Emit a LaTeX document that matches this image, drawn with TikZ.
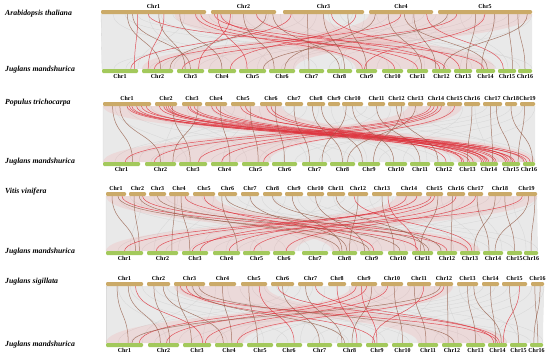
\documentclass[tikz,border=0pt]{standalone}
\usepackage{fontspec}
\setmainfont{Liberation Serif}
\usetikzlibrary{calc,positioning,backgrounds}
\definecolor{chrtop}{RGB}{203,170,104}
\definecolor{chrbot}{RGB}{163,201,92}
\definecolor{lnkred}{RGB}{222,48,58}
\definecolor{lnkbrn}{RGB}{150,95,75}

\tikzset{
  topbar/.style={fill=chrtop, rounded corners=1.2bp, minimum height=4bp, inner sep=0pt, outer sep=0pt},
  botbar/.style={topbar, fill=chrbot},
  chrlab/.style={font=\fontsize{6}{6}\selectfont\bfseries, inner sep=0pt},
  spelab/.style={font=\fontsize{7.8}{8}\selectfont\bfseries\itshape, anchor=west, inner sep=0pt},
  linkr/.style={draw=lnkred, line width=0.5bp, opacity=0.8},
  linkb/.style={draw=lnkbrn, line width=0.5bp, opacity=0.8},
  greyrib/.style={fill=gray!17},
  pinkrib/.style={fill=red!60, opacity=0.12},
  greyln/.style={draw=gray!32, line width=0.3bp},
}

\begin{document}
\begin{tikzpicture}[x=1bp, y=-1bp]
  \useasboundingbox (0,0) rectangle (550,358);

  % species names
  \node[spelab] (sp1) at (5,14) {Arabidopsis thaliana};
  \node[spelab] (jm1) at (5,70) {Juglans mandshurica};
  \node[spelab] (sp2) at (5,103) {Populus trichocarpa};
  \node[spelab] (jm2) at (5,162) {Juglans mandshurica};
  \node[spelab] (sp3) at (5,192) {Vitis vinifera};
  \node[spelab] (jm3) at (5,252) {Juglans mandshurica};
  \node[spelab] (sp4) at (5,282) {Juglans sigillata};
  \node[spelab] (jm4) at (5,345) {Juglans mandshurica};

  % panel 1: Arabidopsis / J. mandshurica
  \foreach \n/\s/\e [evaluate=\e as \w using \e-\s, evaluate=\e as \m using (\s+\e)/2] in
    {1/101/206, 2/211/276, 3/283/364, 4/369/433, 5/438/532}{
    \node[topbar, minimum width=\w bp] (at\n) at (\m,12) {};
    \node[chrlab, above=1.5bp of at\n] (atl\n) {Chr\n};
  }
  \foreach \n/\s/\e [evaluate=\e as \w using \e-\s, evaluate=\e as \m using (\s+\e)/2] in
    {1/102/138, 2/142/173, 3/177/204, 4/208/236, 5/239/266, 6/269/295, 7/299/324, 8/327/352,
     9/356/377, 10/382/403, 11/407/428, 12/432/451, 13/454/472, 14/476/495, 15/498/516, 16/518/532}{
    \node[botbar, minimum width=\w bp] (ab\n) at (\m,71) {};
    \node[chrlab, below=1.5bp of ab\n] (abl\n) {Chr\n};
  }

  % panel 2: Populus / J. mandshurica
  \foreach \n/\s/\e [evaluate=\e as \w using \e-\s, evaluate=\e as \m using (\s+\e)/2] in
    {1/103/151, 2/155/177, 3/182/202, 4/205/227, 5/231/255, 6/260/282, 7/285/303, 8/307/325,
     9/328/340, 10/342/363, 11/368/385, 12/388/405, 13/408/423, 14/427/445, 15/447/462,
     16/464/480, 17/483/502, 18/505/517, 19/520/535}{
    \node[topbar, minimum width=\w bp] (pt\n) at (\m,104) {};
    \node[chrlab, above=1.5bp of pt\n] (ptl\n) {Chr\n};
  }
  \foreach \n/\s/\e [evaluate=\e as \w using \e-\s, evaluate=\e as \m using (\s+\e)/2] in
    {1/103/140, 2/145/176, 3/179/207, 4/211/238, 5/242/269, 6/272/297, 7/302/327, 8/330/355,
     9/358/380, 10/385/407, 11/410/430, 12/434/454, 13/458/477, 14/480/498, 15/502/520, 16/523/535}{
    \node[botbar, minimum width=\w bp] (pb\n) at (\m,164) {};
    \node[chrlab, below=1.5bp of pb\n] (pbl\n) {Chr\n};
  }

  % panel 3: Vitis / J. mandshurica
  \foreach \n/\s/\e [evaluate=\e as \w using \e-\s, evaluate=\e as \m using (\s+\e)/2] in
    {1/106/126, 2/129/146, 3/149/166, 4/169/189, 5/193/215, 6/218/237, 7/241/259, 8/263/282,
     9/285/303, 10/307/324, 11/327/345, 12/348/368, 13/372/392, 14/396/422, 15/426/443,
     16/447/465, 17/468/483, 18/488/512, 19/516/537}{
    \node[topbar, minimum width=\w bp] (vt\n) at (\m,194) {};
    \node[chrlab, above=1.5bp of vt\n] (vtl\n) {Chr\n};
  }
  \foreach \n/\s/\e [evaluate=\e as \w using \e-\s, evaluate=\e as \m using (\s+\e)/2] in
    {1/106/143, 2/147/178, 3/182/208, 4/213/240, 5/243/270, 6/273/295, 7/302/328, 8/332/357,
     9/360/383, 10/388/408, 11/412/433, 12/437/457, 13/460/480, 14/483/503, 15/507/522, 16/524/538}{
    \node[botbar, minimum width=\w bp] (vb\n) at (\m,253) {};
    \node[chrlab, below=1.5bp of vb\n] (vbl\n) {Chr\n};
  }

  % panel 4: J. sigillata / J. mandshurica
  \foreach \n/\s/\e [evaluate=\e as \w using \e-\s, evaluate=\e as \m using (\s+\e)/2] in
    {1/106/143, 2/147/170, 3/174/205, 4/209/236, 5/241/267, 6/271/294, 7/298/323, 8/328/346,
     9/351/377, 10/381/403, 11/407/431, 12/435/453, 13/457/478, 14/482/499, 15/502/527, 16/531/544}{
    \node[topbar, minimum width=\w bp] (st\n) at (\m,284) {};
    \node[chrlab, above=1.5bp of st\n] (stl\n) {Chr\n};
  }
  \foreach \n/\s/\e [evaluate=\e as \w using \e-\s, evaluate=\e as \m using (\s+\e)/2] in
    {1/106/143, 2/148/179, 3/183/211, 4/215/243, 5/247/273, 6/276/302, 7/307/332, 8/337/362,
     9/366/388, 10/392/413, 11/418/438, 12/442/462, 13/466/485, 14/488/507, 15/510/527, 16/530/543}{
    \node[botbar, minimum width=\w bp] (sb\n) at (\m,345) {};
    \node[chrlab, below=1.5bp of sb\n] (sbl\n) {Chr\n};
  }

  \begin{pgfonlayer}{background}
    % grey synteny background
    \fill[greyrib] (at1.south west) .. controls +(0,28) and +(0,-28) .. (ab1.north west)
      -- (ab16.north east) .. controls +(0,-28) and +(0,28) .. (at5.south east) -- cycle;
    \fill[greyrib] (pt1.south west) .. controls +(0,29) and +(0,-29) .. (pb1.north west)
      -- (pb16.north east) .. controls +(0,-29) and +(0,29) .. (pt19.south east) -- cycle;
    \fill[greyrib] (vt1.south west) .. controls +(0,28) and +(0,-28) .. (vb1.north west)
      -- (vb16.north east) .. controls +(0,-28) and +(0,28) .. (vt19.south east) -- cycle;
    \fill[greyrib] (st1.south west) .. controls +(0,30) and +(0,-30) .. (sb1.north west)
      -- (sb16.north east) .. controls +(0,-30) and +(0,30) .. (st16.south east) -- cycle;
    \foreach \k in {0,...,36}{
      \draw[greyln] ($(at1.south west)!{\k/36}!(at5.south east)$) .. controls +(0,28) and +(0,-28)
        .. ($(ab1.north west)!{mod(\k*11,37)/36}!(ab16.north east)$);
      \draw[greyln] ($(pt1.south west)!{\k/36}!(pt19.south east)$) .. controls +(0,29) and +(0,-29)
        .. ($(pb1.north west)!{mod(\k*7,37)/36}!(pb16.north east)$);
      \draw[greyln] ($(vt1.south west)!{\k/36}!(vt19.south east)$) .. controls +(0,28) and +(0,-28)
        .. ($(vb1.north west)!{mod(\k*13,37)/36}!(vb16.north east)$);
      \draw[greyln] ($(st1.south west)!{\k/36}!(st16.south east)$) .. controls +(0,30) and +(0,-30)
        .. ($(sb1.north west)!{mod(\k*5,37)/36}!(sb16.north east)$);
    }

    % pink bundles
    \fill[pinkrib] ($(at1.south west)!0.7!(at1.south east)$) .. controls +(0,28) and +(0,-28) .. (ab9.north west)
      -- (ab14.north east) .. controls +(0,-28) and +(0,28) .. ($(at3.south west)!0.5!(at3.south east)$) -- cycle;
    \fill[pinkrib] (at4.south west) .. controls +(0,28) and +(0,-28) .. (ab2.north west)
      -- (ab6.north east) .. controls +(0,-28) and +(0,28) .. (at5.south east) -- cycle;
    \fill[pinkrib] (pt1.south west) .. controls +(0,29) and +(0,-29) .. (pb13.north west)
      -- (pb16.north east) .. controls +(0,-29) and +(0,29) .. (pt6.south east) -- cycle;
    \fill[pinkrib] (pt13.south west) .. controls +(0,29) and +(0,-29) .. (pb1.north west)
      -- (pb5.north east) .. controls +(0,-29) and +(0,29) .. (pt15.south east) -- cycle;
    \fill[pinkrib] (vt1.south west) .. controls +(0,28) and +(0,-28) .. (vb8.north west)
      -- (vb13.north east) .. controls +(0,-28) and +(0,28) .. (vt5.south east) -- cycle;
    \fill[pinkrib] (vt14.south west) .. controls +(0,28) and +(0,-28) .. (vb1.north west)
      -- (vb6.north east) .. controls +(0,-28) and +(0,28) .. (vt19.south east) -- cycle;
    \fill[pinkrib] (st3.south west) .. controls +(0,30) and +(0,-30) .. (sb11.north west)
      -- (sb14.north east) .. controls +(0,-30) and +(0,30) .. (st5.south east) -- cycle;
    \fill[pinkrib] (st9.south west) .. controls +(0,30) and +(0,-30) .. (sb1.north west)
      -- (sb4.north east) .. controls +(0,-30) and +(0,30) .. (st12.south east) -- cycle;

    % collinear gene pairs
    \foreach \i/\f/\j/\g/\col in {1/0.25/2/0.6/b, 1/0.3/3/0.5/b, 1/0.35/1/0.9/r, 1/0.55/3/0.3/b,
      1/0.6/2/0.2/r, 1/0.75/4/0.5/b, 1/0.9/9/0.3/r, 1/0.95/11/0.5/r, 2/0.1/5/0.3/r, 2/0.15/10/0.6/r,
      2/0.3/3/0.8/r, 2/0.5/6/0.2/b, 2/0.7/12/0.4/r, 2/0.85/2/0.9/b, 2/0.95/8/0.5/b, 3/0.1/1/0.8/r,
      3/0.3/7/0.4/b, 3/0.5/8/0.7/b, 3/0.6/13/0.3/r, 3/0.8/9/0.5/b, 3/0.9/4/0.8/r, 4/0.1/6/0.6/b,
      4/0.3/11/0.7/b, 4/0.5/2/0.4/r, 4/0.55/14/0.6/b, 4/0.7/12/0.2/b, 4/0.9/15/0.3/r, 5/0.1/5/0.9/b,
      5/0.2/3/0.2/r, 5/0.4/13/0.7/b, 5/0.6/14/0.3/b, 5/0.75/15/0.8/b, 5/0.85/16/0.5/b,
      5/0.95/12/0.6/b, 5/0.5/9/0.4/r, 1/0.45/12/0.7/r, 2/0.05/14/0.4/r}
      \draw[link\col] ($(at\i.south west)!\f!(at\i.south east)$) .. controls +(0,28) and +(0,-28)
        .. ($(ab\j.north west)!\g!(ab\j.north east)$);

    \foreach \i/\f/\j/\g/\col in {1/0.2/1/0.8/b, 1/0.35/2/0.5/b, 1/0.5/14/0.5/r, 1/0.6/15/0.3/r,
      1/0.7/13/0.6/r, 1/0.8/16/0.3/r, 1/0.9/14/0.2/r, 2/0.2/14/0.8/r, 2/0.4/15/0.6/r, 2/0.6/13/0.3/r,
      2/0.8/3/0.4/b, 3/0.3/14/0.4/r, 3/0.6/16/0.6/r, 3/0.8/2/0.9/b, 4/0.3/13/0.8/r, 4/0.7/4/0.7/b,
      5/0.4/15/0.4/r, 5/0.8/5/0.6/b, 6/0.3/12/0.6/r, 6/0.7/6/0.5/b, 7/0.5/7/0.3/b, 8/0.3/8/0.5/b,
      8/0.8/9/0.2/b, 10/0.5/10/0.4/b, 11/0.5/11/0.5/b, 12/0.5/12/0.2/b, 13/0.5/8/0.7/b,
      14/0.2/1/0.6/r, 14/0.4/2/0.3/r, 14/0.6/3/0.7/r, 14/0.8/4/0.4/r, 15/0.5/5/0.8/r,
      16/0.5/13/0.5/b, 17/0.4/14/0.7/b, 17/0.7/15/0.5/b, 18/0.5/16/0.8/b, 19/0.3/15/0.9/b,
      12/0.8/9/0.7/b, 10/0.2/7/0.8/b, 2/0.5/14/0.1/r, 3/0.4/15/0.2/r, 4/0.5/14/0.9/r,
      1/0.55/15/0.7/r, 2/0.7/16/0.1/r, 5/0.6/14/0.3/r, 6/0.5/13/0.2/r}
      \draw[link\col] ($(pt\i.south west)!\f!(pt\i.south east)$) .. controls +(0,29) and +(0,-29)
        .. ($(pb\j.north west)!\g!(pb\j.north east)$);

    \foreach \i/\f/\j/\g/\col in {1/0.3/1/0.8/b, 1/0.6/9/0.4/b, 1/0.8/11/0.3/r, 2/0.3/1/0.9/b,
      2/0.6/8/0.3/b, 2/0.8/12/0.5/r, 3/0.5/10/0.6/b, 4/0.3/2/0.8/b, 4/0.6/3/0.3/b, 4/0.8/13/0.4/r,
      5/0.5/9/0.6/r, 6/0.4/11/0.8/b, 7/0.5/8/0.6/b, 8/0.5/12/0.2/b, 9/0.4/8/0.4/b, 10/0.5/9/0.2/b,
      11/0.5/11/0.6/b, 12/0.5/8/0.7/b, 12/0.3/13/0.6/r, 13/0.5/10/0.3/b, 14/0.4/3/0.7/r,
      14/0.8/2/0.3/r, 15/0.3/1/0.5/r, 15/0.5/4/0.6/r, 15/0.7/11/0.4/b, 16/0.5/5/0.4/r,
      16/0.3/12/0.7/b, 17/0.5/6/0.6/r, 17/0.6/14/0.3/b, 18/0.3/13/0.7/b, 18/0.7/15/0.5/b,
      19/0.3/3/0.4/r, 19/0.6/14/0.6/b, 19/0.9/16/0.5/b, 6/0.2/4/0.9/b, 13/0.8/11/0.2/r}
      \draw[link\col] ($(vt\i.south west)!\f!(vt\i.south east)$) .. controls +(0,28) and +(0,-28)
        .. ($(vb\j.north west)!\g!(vb\j.north east)$);

    \foreach \i/\f/\j/\g/\col in {1/0.3/1/0.6/b, 1/0.6/2/0.4/b, 1/0.8/3/0.7/r, 2/0.3/2/0.7/b,
      2/0.7/4/0.3/b, 3/0.1/3/0.3/b, 3/0.2/14/0.5/r, 3/0.4/9/0.4/r, 3/0.6/8/0.3/b, 3/0.8/12/0.6/b,
      4/0.5/4/0.6/b, 5/0.3/5/0.4/b, 5/0.7/6/0.7/r, 6/0.5/7/0.5/b, 7/0.3/8/0.2/b, 7/0.7/14/0.3/r,
      8/0.5/8/0.8/r, 9/0.2/1/0.9/r, 9/0.4/9/0.5/r, 9/0.6/2/0.6/r, 9/0.8/8/0.6/b, 10/0.3/3/0.8/r,
      10/0.6/10/0.5/b, 11/0.3/11/0.4/b, 11/0.7/9/0.3/r, 12/0.3/1/0.7/b, 12/0.5/4/0.8/r,
      12/0.7/12/0.3/b, 13/0.5/13/0.5/b, 13/0.8/14/0.7/b, 14/0.5/14/0.4/b, 15/0.3/15/0.5/b,
      15/0.7/14/0.8/r, 16/0.3/16/0.6/b, 16/0.7/16/0.3/b, 6/0.3/14/0.6/r}
      \draw[link\col] ($(st\i.south west)!\f!(st\i.south east)$) .. controls +(0,30) and +(0,-30)
        .. ($(sb\j.north west)!\g!(sb\j.north east)$);
  \end{pgfonlayer}
\end{tikzpicture}
\end{document}
